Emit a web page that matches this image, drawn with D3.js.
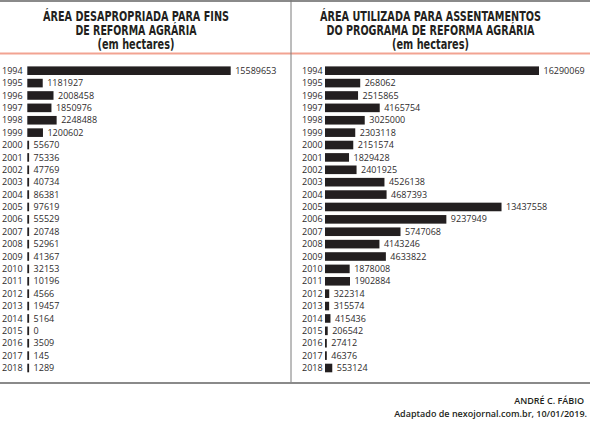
<!DOCTYPE html>
<html lang="pt-BR">
<head>
    <meta charset="UTF-8">
    <title>Reforma agrária</title>
    <style>
        body { margin: 0; background: #fff; }
        svg { display: block; }
        .yr, .val { font-family: "Open Sans", "Noto Sans", sans-serif; font-size: 9px; fill: #2e2b2c; }
        .ttl { font-family: "DejaVu Sans Condensed", "DejaVu Sans", sans-serif; font-weight: bold; font-size: 13.5px; fill: #231f20; }
        .foot { font-family: "Open Sans", sans-serif; font-weight: 600; font-size: 9px; fill: #231f20; }
    </style>
</head>
<body>
<script src="https://d3js.org/d3.v7.min.js"></script>
<script>
    const years = d3.range(1994, 2019);

    // área desapropriada (ha)
    const desapropriada = [15589653, 1181927, 2008458, 1850976, 2248488, 1200602,
        55670, 75336, 47769, 40734, 86381, 97619, 55529, 20748, 52961, 41367,
        32153, 10196, 4566, 19457, 5164, 0, 3509, 145, 1289];
    const desapropriadaLabels = ["15589653", "1181927", "2008458", "1850976", "2248488", "1200602",
        "55670", "75336", "47769", "40734", "86381", "97619", "55529", "20748", "52961", "41367",
        "32153", "10196", "4566", "19457", "5164", "0", "3509", "145", "1289"];

    // área utilizada para assentamentos (ha) - 1995 bar length reads ~2680062, label printed as 268062
    const assentamentos = [16290069, 2680062, 2515865, 4165754, 3025000, 2303118,
        2151574, 1829428, 2401925, 4526138, 4687393, 13437558, 9237949, 5747068, 4143246, 4633822,
        1878008, 1902884, 322314, 315574, 415436, 206542, 27412, 46376, 553124];
    const assentamentosLabels = ["16290069", "268062", "2515865", "4165754", "3025000", "2303118",
        "2151574", "1829428", "2401925", "4526138", "4687393", "13437558", "9237949", "5747068", "4143246", "4633822",
        "1878008", "1902884", "322314", "315574", "415436", "206542", "27412", "46376", "553124"];

    const titleLeft = ["ÁREA DESAPROPRIADA PARA FINS", "DE REFORMA AGRÁRIA", "(em hectares)"];
    const titleRight = ["ÁREA UTILIZADA PARA ASSENTAMENTOS", "DO PROGRAMA DE REFORMA AGRÁRIA", "(em hectares)"];

    const W = 590, H = 421;
    const svg = d3.select("body").append("svg").attr("width", W).attr("height", H);

    // frame lines
    svg.append("line").attr("x1", 0).attr("x2", W).attr("y1", 1).attr("y2", 1)
        .attr("stroke", "#8a8a8a").attr("stroke-width", 2);
    svg.append("line").attr("x1", 0).attr("x2", W).attr("y1", 53.5).attr("y2", 53.5)
        .attr("stroke", "#f2a392").attr("stroke-width", 2);
    svg.append("line").attr("x1", 291).attr("x2", 291).attr("y1", 0).attr("y2", 383)
        .attr("stroke", "#7a7a7a").attr("stroke-width", 1);
    svg.append("line").attr("x1", 0).attr("x2", W).attr("y1", 383).attr("y2", 383)
        .attr("stroke", "#8a8a8a").attr("stroke-width", 2);

    const y = d3.scalePoint().domain(years).range([70.7, 368]);
    const barH = 8.6;

    function drawPanel(opts) {
        const g = svg.append("g");
        const x = d3.scaleLinear().domain([0, opts.max]).range([opts.x0, opts.x1]);

        // title
        g.selectAll(".ttl").data(opts.title).enter().append("text")
            .attr("class", "ttl")
            .attr("x", opts.cx)
            .attr("y", (d, i) => 20.5 + i * 14)
            .attr("text-anchor", "middle")
            .attr("textLength", (d, i) => opts.titleW[i])
            .attr("lengthAdjust", "spacingAndGlyphs")
            .text(d => d);

        const rows = years.map((yr, i) => ({ yr, v: opts.values[i], label: opts.labels[i] }));

        g.selectAll(".yr").data(rows).enter().append("text")
            .attr("class", "yr")
            .attr("x", opts.yearX)
            .attr("y", d => y(d.yr) + 3.1)
            .text(d => d.yr);

        g.selectAll(".bar").data(rows).enter().append("rect")
            .attr("class", "bar")
            .attr("x", opts.x0)
            .attr("y", d => y(d.yr) - barH / 2)
            .attr("width", d => Math.max(x(d.v) - opts.x0, 1.8))
            .attr("height", barH)
            .attr("fill", "#231f20");

        g.selectAll(".val").data(rows).enter().append("text")
            .attr("class", "val")
            .attr("x", d => Math.max(x(d.v), opts.x0 + 1.8) + 4.5)
            .attr("y", d => y(d.yr) + 3.1)
            .text(d => d.label);
    }

    drawPanel({
        title: titleLeft, titleW: [186, 121, 77], cx: 136,
        values: desapropriada, labels: desapropriadaLabels,
        max: 15589653, x0: 27.3, x1: 230.7, yearX: 2
    });

    drawPanel({
        title: titleRight, titleW: [221, 208, 77], cx: 430.5,
        values: assentamentos, labels: assentamentosLabels,
        max: 16290069, x0: 325, x1: 539, yearX: 302
    });

    // credits
    svg.append("text").attr("class", "foot")
        .attr("x", 584).attr("y", 404).attr("text-anchor", "end")
        .text("ANDRÉ C. FÁBIO");
    svg.append("text").attr("class", "foot")
        .attr("x", 587).attr("y", 417).attr("text-anchor", "end")
        .text("Adaptado de nexojornal.com.br, 10/01/2019.");
</script>
</body>
</html>
